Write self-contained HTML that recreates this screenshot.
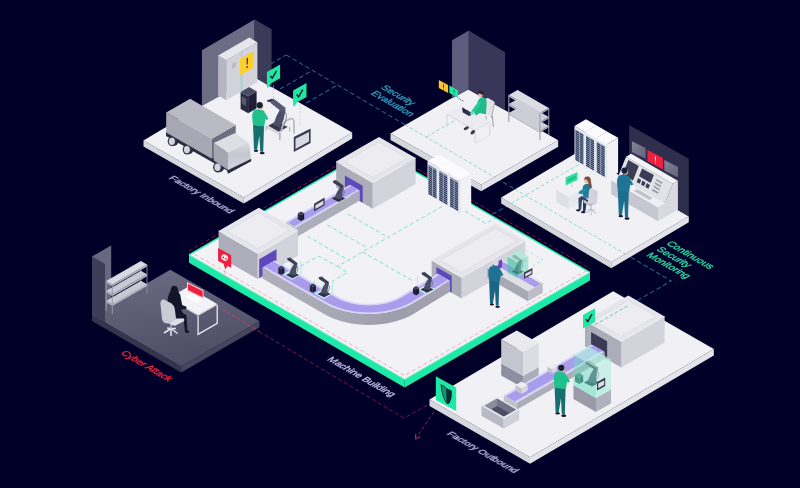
<!DOCTYPE html>
<html lang="en"><head><meta charset="utf-8"><title>Factory Security Overview</title>
<style>
html,body{margin:0;padding:0;background:#010029;}
body{width:800px;height:488px;overflow:hidden;}
svg{display:block;}
text{font-family:"Liberation Sans",sans-serif;}
</style></head><body>
<svg width="800" height="488" viewBox="0 0 800 488">
<rect width="800" height="488" fill="#010029"/>
<!-- p_lines -->
<polyline points="286.2,54.9 671.2,281 607.5,317.8" fill="none" stroke="#2a5f84" stroke-width="1.1" stroke-dasharray="4.6 2.8"/>
<polyline points="232,86.2 286.2,54.9" fill="none" stroke="#2a5f84" stroke-width="1.1" stroke-dasharray="4.6 2.8"/>
<polyline points="280,89.1 312.5,70.3" fill="none" stroke="#2a5f84" stroke-width="1.1" stroke-dasharray="4.6 2.8"/>
<polyline points="306.2,103.1 337.5,85" fill="none" stroke="#2a5f84" stroke-width="1.1" stroke-dasharray="4.6 2.8"/>
<polyline points="486,218.1 511.4,203.4" fill="none" stroke="#2a5f84" stroke-width="1.1" stroke-dasharray="4.6 2.8"/>
<polyline points="189,251 374.2,144.1 590,268.6" fill="none" stroke="#7c1747" stroke-width="1" stroke-dasharray="4 2.6"/>
<polyline points="259,331.4 403.8,418.1 431,403.2" fill="none" stroke="#7c1747" stroke-width="1" stroke-dasharray="4 2.6"/>
<!-- p1 -->
<polygon points="143.5,140.6 243.8,197.5 243.8,203.5 143.5,146.6" fill="#d6d6dd"/>
<polygon points="243.8,197.5 352.2,132.6 352.2,138.6 243.8,203.5" fill="#e3e3e9"/>
<polygon points="143.5,140.6 251.9,75.7 352.2,132.6 243.8,197.5" fill="#f1f1f5"/>
<polygon points="201.9,50.3 254.6,19.5 254.6,77 201.9,106" fill="#6c6c84"/>
<polygon points="254.6,19.5 271.6,29.3 271.6,87.5 254.6,77" fill="#3b3a58"/>
<polygon points="218.1,55.6 226.2,60.3 226.2,100.3 218.1,95.6" fill="#b6b6c2"/>
<polygon points="226.2,60.3 257.4,42.3 257.4,82.3 226.2,100.3" fill="#d3d3db"/>
<polygon points="218.1,55.6 249.3,37.6 257.4,42.3 226.2,60.3" fill="#e6e6ec"/>
<polyline points="241.8,91.3 241.8,51.3" fill="none" stroke="#b9b9c4" stroke-width="0.8"/>
<polygon points="232,64 236,61.7 236,67 232,69.3" fill="#bcbcc8"/>
<polygon points="240,58.8 253.8,51.2 253.8,67.5 240,75.6" fill="#fccf2f"/>
<path d="M246.6 58.5 l1.3 -0.7 l-0.2 6.4 l-0.9 0.5z M246.5 66.6 l1.3 -0.7 v1.6 l-1.3 0.7z" fill="#1a1a2e"/>
<polyline points="240.5,75 240.5,92" fill="none" stroke="#8fdccf" stroke-width="0.7" stroke-dasharray="2 1.5"/>
<polygon points="240.6,91.9 248.1,96.2 248.1,113.2 240.6,108.9" fill="#2a2a42"/>
<polygon points="248.1,96.2 256.6,91.3 256.6,108.3 248.1,113.2" fill="#1e1e34"/>
<polygon points="240.6,91.9 249.1,87 256.6,91.3 248.1,96.2" fill="#4b4b64"/>
<polygon points="241.8,96.2 246.2,98.7 246.2,106.2 241.8,103.7" fill="#56566e"/>
<polygon points="166,131 228,166 228,171 166,136" fill="#2d2d44"/>
<ellipse cx="173.8" cy="140.5" rx="4.8" ry="5.2" fill="#26263c"/>
<ellipse cx="172.2" cy="141.3" rx="4.5" ry="5" fill="#34344a"/>
<ellipse cx="171.9" cy="141.3" rx="3" ry="3.6" fill="#d4d4dc"/>
<ellipse cx="188.8" cy="148.8" rx="4.8" ry="5.2" fill="#26263c"/>
<ellipse cx="187.2" cy="149.6" rx="4.5" ry="5" fill="#34344a"/>
<ellipse cx="186.9" cy="149.6" rx="3" ry="3.6" fill="#d4d4dc"/>
<ellipse cx="219.4" cy="166.5" rx="4.9" ry="5.5" fill="#26263c"/>
<ellipse cx="217.8" cy="167.3" rx="4.7" ry="5.2" fill="#34344a"/>
<ellipse cx="217.5" cy="167.3" rx="3.1" ry="3.7" fill="#d4d4dc"/>
<polygon points="166.2,112.5 211.9,138.8 211.9,158.8 166.2,132.5" fill="#a8a8b4"/>
<polygon points="211.9,138.8 235.7,125.1 235.7,145.1 211.9,158.8" fill="#6f6f80"/>
<polygon points="166.2,112.5 190.1,98.8 235.7,125.1 211.9,138.8" fill="#babac4"/>
<polygon points="213.8,143 228,152.5 228,170 213.8,160.6" fill="#a6a6b2"/>
<defs><linearGradient id="cabf" x1="0" y1="0" x2="0" y2="1"><stop offset="0" stop-color="#d9d9e0"/><stop offset="0.45" stop-color="#c6c6cf"/><stop offset="1" stop-color="#d6d6de"/></linearGradient></defs>
<path d="M228 152.5 L248 142.5 Q250.4 146 250.6 158.75 L228 170z" fill="url(#cabf)"/>
<polygon points="213.8,143 235,133 248,142.5 228,152.5" fill="#dedee5"/>
<polygon points="227,170.6 251.2,158.8 251.2,161.3 228,173.8" fill="#2a2a40"/>
<polyline points="266.1,126.3 266.1,130.6" fill="none" stroke="#b4b4bf" stroke-width="1.3"/>
<polyline points="289.6,127 289.6,131.5" fill="none" stroke="#b4b4bf" stroke-width="1.2"/>
<polygon points="265.5,125.8 276.7,119.6 290,126.7 278.6,133.3" fill="#e6e6ec"/>
<polygon points="265.5,125.8 278.6,133.3 278.6,134.5 265.5,127" fill="#c3c3cd"/>
<polygon points="268.2,125.8 276.7,121.1 287.6,127 278.6,131.7" fill="#3b3b52"/>
<polyline points="279.8,132.5 279.8,140" fill="none" stroke="#b4b4bf" stroke-width="1.7"/>
<path d="M281.2 132 Q282 121.5 290.5 118.6 Q294 118.2 294 122 V133.6" fill="none" stroke="#b9b9c4" stroke-width="1.7"/>
<path d="M271.5 125.4 l5.2 -2.9 l5.2 2.9 l-5.2 3z" fill="#2f2f46"/>
<path d="M273.2 125 L276.5 116 L281.2 107.2 L285.6 109.4 L283.6 119.5 L280.4 127.4z" fill="#4e4e68"/>
<path d="M268.6 100.4 L273.4 98.6 L285.8 108 L282.4 112.2 L271.8 104z" fill="#5a5a74"/>
<path d="M266.6 100.6 l5 -1.9 l1.8 1.2 l-5 2.3z" fill="#34344c"/>
<path d="M284.5 111 Q288.5 116 284 124" fill="none" stroke="#6a6a84" stroke-width="0.8"/>
<polygon points="293.8,136.9 310.6,128.5 310.6,143 293.8,152" fill="#3a3a50"/>
<polygon points="295.5,138.8 309,132 309,141.6 295.5,149" fill="#d9d9e1"/>
<polyline points="273.5,85.5 273.5,100" fill="none" stroke="#8fdccf" stroke-width="0.7" stroke-dasharray="2 1.5"/>
<polyline points="300,104 300,126" fill="none" stroke="#8fdccf" stroke-width="0.7" stroke-dasharray="2 1.5"/>
<path d="M266.9 71.9 L280.1 64.5 L280.1 78.3 L270.9 83.5 L267.7 88.3 L266.9 85.7z" fill="#1ee8a4"/>
<path d="M270.3 75.9 l2 2.2 l4.2 -7.2" fill="none" stroke="#10202e" stroke-width="1.5"/>
<path d="M293.1 90.6 L306.5 83.1 L306.5 97 L297.1 102.3 L293.9 107.1 L293.1 104.5z" fill="#1ee8a4"/>
<path d="M296.6 94.6 l2 2.2 l4.2 -7.2" fill="none" stroke="#10202e" stroke-width="1.5"/>
<path d="M253 124.6 L264 126.1 L263.2 152.1 L260.2 151.6 L259.4 135.6 L257 150.1 L254 149.6z" fill="#16706f"/>
<ellipse cx="256" cy="150.8" rx="2.3" ry="1.1" fill="#16162a"/>
<ellipse cx="262.2" cy="153.1" rx="2.5" ry="1.2" fill="#16162a"/>
<path d="M254 110.1 Q259 108.1 264 110.8 L266 116.6 L264.2 126.6 L253 125.2 L252.2 117.6 Q252 112.6 254 110.1z" fill="#21c08c"/>
<path d="M262.5 112.6 L265.5 113.6 L268.5 119.1 L266.2 120.1z" fill="#21c08c"/>
<ellipse cx="260.8" cy="106.4" rx="2.6" ry="3" fill="#e8b9a0"/>
<ellipse cx="259.7" cy="105.2" rx="3.1" ry="3.1" fill="#162433"/>
<!-- p2 -->
<polygon points="390.5,133.6 481.2,184.8 481.2,191.3 390.5,140.1" fill="#d6d6dd"/>
<polygon points="481.2,184.8 558.2,140.2 558.2,146.7 481.2,191.3" fill="#e3e3e9"/>
<polygon points="390.5,133.6 467.5,89 558.2,140.2 481.2,184.8" fill="#f1f1f5"/>
<polygon points="452,40.2 468.8,30.6 468.8,89.5 452,98.5" fill="#5d5c7c"/>
<polygon points="468.8,30.6 505,52.3 505,110 468.8,89.5" fill="#38375a"/>
<clipPath id="c2"><polygon points="390.5,133.6 467.5,89 558.2,140.2 481.2,184.8"/></clipPath><g clip-path="url(#c2)">
<polyline points="400,121.7 510,186.3" fill="none" stroke="#7fd9cc" stroke-width="0.9" stroke-dasharray="3.5 2.2"/>
<polyline points="426.5,137 463,115.6" fill="none" stroke="#7fd9cc" stroke-width="0.9" stroke-dasharray="3.5 2.2"/>
</g>
<polygon points="438.8,80 448.1,85 448.1,93.1 438.8,88.1" fill="#f6c52f"/>
<path d="M443 84.2 l1 0.5 l-0.2 3.4 l-0.6 -0.3z M443.2 88.6 l0.8 0.4 v1 l-0.8 -0.4z" fill="#1a1a2e"/>
<polygon points="449.4,85.6 458.1,90.6 458.1,98.1 449.4,93.1" fill="#1ee8a4"/>
<path d="M453.6 89.6 l0.9 0.5 l-0.2 3.2 l-0.5 -0.3z M453.8 93.8 l0.7 0.4 v0.9 l-0.7 -0.4z" fill="#0f5a4a"/>
<polyline points="458.5,98.5 464,101.5" fill="none" stroke="#34344c" stroke-width="1" stroke-dasharray="1 1"/>
<path d="M485.5 99.5 Q487 97 489.5 98.8 L494 101.5 Q495 102.5 494.6 104 L492 117.5 L484.5 113z" fill="#e1e1e8"/>
<polyline points="492.4,116 493.4,127" fill="none" stroke="#8e8e9c" stroke-width="0.9"/>
<polyline points="486,116 486.5,124" fill="none" stroke="#8e8e9c" stroke-width="0.9"/>
<polyline points="494.4,103 491.5,118" fill="none" stroke="#a6a6b2" stroke-width="0.9"/>
<polygon points="446.9,113.6 475,129.8 475,130.8 446.9,114.5" fill="#cdcdd6"/>
<polygon points="475,129.8 489.8,121.3 489.8,122.2 475,130.8" fill="#d8d8e0"/>
<polygon points="446.9,113.6 461.6,105.1 489.8,121.3 475,129.8" fill="#ebebf1"/>
<polyline points="446.9,114.5 446.9,127.1" fill="none" stroke="#d2d2db" stroke-width="1"/>
<polyline points="475,130.8 475,143.3" fill="none" stroke="#d2d2db" stroke-width="1"/>
<polyline points="489.8,122.2 489.8,134.8" fill="none" stroke="#d2d2db" stroke-width="1"/>
<polyline points="475,143.3 489.8,134.8" fill="none" stroke="#dadae2" stroke-width="0.9"/>
<ellipse cx="466.3" cy="128.2" rx="2.8" ry="1.5" fill="#3a3a50" transform="rotate(-28 466.3 128.2)"/>
<ellipse cx="472.8" cy="132.3" rx="2.6" ry="1.6" fill="#3a3a50" transform="rotate(-40 472.8 132.3)"/>
<path d="M474 112 L478 101 Q480 96.5 484 97.5 Q487.3 99 486.6 105 L485.8 114.5 L480 113 L476 115.5z" fill="#20bb89"/>
<path d="M478.5 101.5 L481.5 103 L474.5 112.6 L471.5 113.5 L471.4 111z" fill="#26cf99"/>
<ellipse cx="480.6" cy="94.6" rx="2.4" ry="2.8" fill="#e8b9a0"/>
<path d="M477.6 93.6 Q478 90.3 481 90.6 Q484 91 483.6 94.2 L482.5 95.6 Q481.5 92.8 477.6 93.6z" fill="#2a2436"/>
<polygon points="462,107.3 468.8,111.2 469.4,116 462.8,112.2" fill="#23233a"/>
<polygon points="462.8,112.2 469.4,116 473.4,113.8 467,110.2" fill="#34344c"/>
<polygon points="470,113 473.5,111 474.5,113.6 471,115.6" fill="#5fe3bd"/>
<polyline points="517.6,116.9 517.6,89.9" fill="none" stroke="#9c9ca8" stroke-width="1"/>
<polyline points="548.8,134.9 548.8,107.9" fill="none" stroke="#9c9ca8" stroke-width="1"/>
<polygon points="508.8,95 539.9,113 539.9,114.7 508.8,96.7" fill="#b9b9c5"/>
<polygon points="539.9,113 548.8,107.9 548.8,109.6 539.9,114.7" fill="#a2a2ae"/>
<polygon points="508.8,95 517.6,89.9 548.8,107.9 539.9,113" fill="#dcdce4"/>
<polygon points="508.8,104 539.9,122 539.9,123.7 508.8,105.7" fill="#b9b9c5"/>
<polygon points="539.9,122 548.8,116.9 548.8,118.6 539.9,123.7" fill="#a2a2ae"/>
<polygon points="508.8,104 517.6,98.9 548.8,116.9 539.9,122" fill="#cdcdd7"/>
<polygon points="508.8,113 539.9,131 539.9,132.7 508.8,114.7" fill="#b9b9c5"/>
<polygon points="539.9,131 548.8,125.9 548.8,127.6 539.9,132.7" fill="#a2a2ae"/>
<polygon points="508.8,113 517.6,107.9 548.8,125.9 539.9,131" fill="#cdcdd7"/>
<polyline points="508.8,122 508.8,95" fill="none" stroke="#9c9ca8" stroke-width="1.1"/>
<polyline points="539.9,140 539.9,113" fill="none" stroke="#9c9ca8" stroke-width="1.1"/>
<!-- pmain -->
<polygon points="189,254.8 404.7,379.4 404.7,387.4 189,262.8" fill="#1ceaa6"/>
<polygon points="404.7,379.4 590,272.4 590,280.4 404.7,387.4" fill="#1ceaa6"/>
<polygon points="189,254.8 374.2,147.9 590,272.4 404.7,379.4" fill="#f2f2f6"/>
<polyline points="189,254.8 374.2,147.9 590,272.4" fill="none" stroke="#1ceaa6" stroke-width="1.4"/>
<polyline points="189,254.8 404.7,379.4 590,272.4" fill="none" stroke="#7df3cf" stroke-width="1"/>
<clipPath id="cfloor"><polygon points="189,254.8 374.2,147.9 590,272.4 404.7,379.4"/></clipPath>
<g clip-path="url(#cfloor)">
<polyline points="189,251 404.7,375.6 590,268.6" fill="none" stroke="#f3a7b1" stroke-width="0.9" stroke-dasharray="4 2.6"/>
<polyline points="442,206.5 337.5,266.3 318.8,256.3 300,266.3" fill="none" stroke="#74dcc9" stroke-width="0.9" stroke-dasharray="4 2.6"/>
<polyline points="337.5,266.3 347.5,272.5 332.5,281.2" fill="none" stroke="#74dcc9" stroke-width="0.9" stroke-dasharray="4 2.6"/>
<polyline points="347.5,213.8 386.3,236.3" fill="none" stroke="#74dcc9" stroke-width="0.9" stroke-dasharray="4 2.6"/>
<polyline points="327.5,225 367.5,248" fill="none" stroke="#74dcc9" stroke-width="0.9" stroke-dasharray="4 2.6"/>
<polyline points="307.5,236.3 346.3,258.8" fill="none" stroke="#74dcc9" stroke-width="0.9" stroke-dasharray="4 2.6"/>
<polyline points="362.5,252 412,280.5" fill="none" stroke="#74dcc9" stroke-width="0.9" stroke-dasharray="4 2.6"/>
<polyline points="465,211.3 486,223.5 502,214.3" fill="none" stroke="#74dcc9" stroke-width="0.9" stroke-dasharray="4 2.6"/>
<polyline points="474,205 520,231.5" fill="none" stroke="#74dcc9" stroke-width="0.9" stroke-dasharray="4 2.6"/>
</g>
<polygon points="336.2,161.6 372.8,182.7 372.8,208.7 336.2,187.6" fill="#adadba"/>
<polygon points="372.8,182.7 415.6,158 415.6,184 372.8,208.7" fill="#d3d3db"/>
<polygon points="336.2,161.6 379,136.9 415.6,158 372.8,182.7" fill="#e5e5eb"/>
<polygon points="344.9,161.6 379,141.9 406.9,158 372.8,177.7" fill="#ececf1" stroke="#d9d9e1" stroke-width="0.7"/>
<polyline points="336.2,161.6 372.8,182.7 415.6,158" fill="none" stroke="#f0f0f4" stroke-width="0.8"/>
<polyline points="372.8,182.7 372.8,208.7" fill="none" stroke="#c6c6d0" stroke-width="0.6"/>
<polygon points="344.9,175.6 362.7,185.8 362.7,202.8 344.9,192.6" fill="#5f48ba"/>
<polygon points="286.2,221.5 296.2,227.2 296.2,237.2 286.2,231.5" fill="#c2c2cc"/>
<polygon points="296.2,227.2 359.8,190.6 359.8,200.6 296.2,237.2" fill="#adadba"/>
<polygon points="286.2,221.5 349.8,184.8 359.8,190.6 296.2,227.2" fill="#d9d3fa"/>
<polygon points="288,222.5 294.5,226.2 358,189.6 351.5,185.8" fill="#a99cec"/>
<polygon points="297.8,213.2 301,215.1 301,221 297.8,219.2" fill="#24243a"/>
<polygon points="301,215.1 304.2,213.2 304.2,219.2 301,221" fill="#1a1a30"/>
<polygon points="297.8,213.2 301,211.4 304.2,213.2 301,215.1" fill="#3e3e58"/>
<polygon points="314,203.8 324.6,197.6 324.6,205.2 314,211.4" fill="#3a3a50"/>
<polygon points="315.4,205.2 323.4,200.6 323.4,204.4 315.4,209" fill="#d9d9e1"/>
<path d="M331.7 198.5 L338.5 195.1 L345.3 198.5 L338.5 201.9z" fill="#2e2e46"/>
<path d="M334.7 198 L336.9 192.2 L340.8 185.4 L343.8 186.4 L342.3 193.8 L341.9 199.3z" fill="#4c4c66"/>
<path d="M332.7 180.9 L335.9 180 L344 186.1 L341 187.8 L333.5 183z" fill="#3d3d56"/>
<path d="M342.7 188 Q345.9 192.2 342.2 196.4" fill="none" stroke="#5b5b76" stroke-width="0.7"/>
<polygon points="218.6,230.9 257.8,253.5 257.8,279 218.6,256.4" fill="#adadba"/>
<polygon points="257.8,253.5 298,230.3 298,255.8 257.8,279" fill="#d3d3db"/>
<polygon points="218.6,230.9 258.8,207.7 298,230.3 257.8,253.5" fill="#e5e5eb"/>
<polygon points="227.3,230.9 258.8,212.7 289.4,230.3 257.8,248.5" fill="#ececf1" stroke="#d9d9e1" stroke-width="0.7"/>
<polyline points="218.6,230.9 257.8,253.5 298,230.3" fill="none" stroke="#f0f0f4" stroke-width="0.8"/>
<polyline points="257.8,253.5 257.8,279" fill="none" stroke="#c6c6d0" stroke-width="0.6"/>
<polygon points="259.2,259.2 276.5,249.3 276.5,268.3 259.2,278.2" fill="#5f48ba"/>
<polygon points="431.6,260.2 461.6,277.5 461.6,298.5 431.6,281.2" fill="#adadba"/>
<polygon points="461.6,277.5 525.3,240.7 525.3,261.7 461.6,298.5" fill="#d3d3db"/>
<polygon points="431.6,260.2 495.3,223.4 525.3,240.7 461.6,277.5" fill="#e5e5eb"/>
<polygon points="440.3,260.2 495.3,228.4 516.6,240.7 461.6,272.5" fill="#ececf1" stroke="#d9d9e1" stroke-width="0.7"/>
<polyline points="431.6,260.2 461.6,277.5 525.3,240.7" fill="none" stroke="#f0f0f4" stroke-width="0.8"/>
<polyline points="461.6,277.5 461.6,298.5" fill="none" stroke="#c6c6d0" stroke-width="0.6"/>
<polygon points="436.4,266.9 451.7,275.8 451.7,292.8 436.4,283.9" fill="#5f48ba"/>
<defs><linearGradient id="cside" x1="0" y1="0" x2="1" y2="0"><stop offset="0" stop-color="#b0b0bc"/><stop offset="0.4" stop-color="#a8a8b5"/><stop offset="0.7" stop-color="#9d9dab"/><stop offset="1" stop-color="#a2a2b0"/></linearGradient></defs>
<path d="M262.5 267.5 L262.5 267.5 L325 303.6 C349.2 317.5 388.3 317.5 412.5 303.6 L450 280.8 L450 291.8 L412.5 314.6 C388.3 328.5 349.2 328.5 325 314.6 L262.5 278.5z" fill="url(#cside)"/>
<path d="M262.5 267.5 L262.5 267.5 L325 303.6 C349.2 317.5 388.3 317.5 412.5 303.6 L450 280.8 L437.4 273.6 L399.9 296.4 C382.7 306.3 354.8 306.3 337.6 296.4 L275.1 260.2z" fill="#d9d3fa"/>
<path d="M264.4 266.4 L264.4 266.4 L326.9 302.5 C350 315.8 387.5 315.8 410.6 302.5 L448.1 279.7 L439.3 274.7 L401.8 297.5 C383.6 308 354 308 335.7 297.5 L273.2 261.4z" fill="#a99cec"/>
<polygon points="282.7,274.2 291.4,269.2 300.9,274.8 292.2,279.8" fill="#c9f3ee" opacity="0.9"/>
<polyline points="282.7,274.2 282.7,261.2" fill="none" stroke="#6fe0cf" stroke-width="0.5"/>
<polyline points="292.2,279.8 292.2,266.8" fill="none" stroke="#6fe0cf" stroke-width="0.5"/>
<polyline points="300.9,274.8 300.9,261.8" fill="none" stroke="#6fe0cf" stroke-width="0.5"/>
<polyline points="291.4,269.2 291.4,256.2" fill="none" stroke="#6fe0cf" stroke-width="0.5"/>
<polygon points="314.4,293.4 323.1,288.4 332.6,293.9 323.9,298.9" fill="#c9f3ee" opacity="0.9"/>
<polyline points="314.4,293.4 314.4,280.4" fill="none" stroke="#6fe0cf" stroke-width="0.5"/>
<polyline points="323.9,298.9 323.9,285.9" fill="none" stroke="#6fe0cf" stroke-width="0.5"/>
<polyline points="332.6,293.9 332.6,280.9" fill="none" stroke="#6fe0cf" stroke-width="0.5"/>
<polyline points="323.1,288.4 323.1,275.4" fill="none" stroke="#6fe0cf" stroke-width="0.5"/>
<polygon points="417.4,289.2 426.1,284.2 435.6,289.8 426.9,294.8" fill="#c9f3ee" opacity="0.9"/>
<polyline points="417.4,289.2 417.4,276.2" fill="none" stroke="#6fe0cf" stroke-width="0.5"/>
<polyline points="426.9,294.8 426.9,281.8" fill="none" stroke="#6fe0cf" stroke-width="0.5"/>
<polyline points="435.6,289.8 435.6,276.8" fill="none" stroke="#6fe0cf" stroke-width="0.5"/>
<polyline points="426.1,284.2 426.1,271.2" fill="none" stroke="#6fe0cf" stroke-width="0.5"/>
<polygon points="278.3,267.5 281.3,269.2 281.3,275 278.3,273.2" fill="#24243a"/>
<polygon points="281.3,269.2 284.4,267.5 284.4,273.2 281.3,275" fill="#1a1a30"/>
<polygon points="278.3,267.5 281.3,265.7 284.4,267.5 281.3,269.2" fill="#3e3e58"/>
<path d="M286 275 L292.5 271.8 L299 275 L292.5 278.2z" fill="#2e2e46"/>
<path d="M288.9 274.5 L291 269 L294.7 262.5 L297.5 263.5 L296.1 270.5 L295.7 275.8z" fill="#4c4c66"/>
<path d="M287 258.2 L290 257.4 L297.7 263.2 L294.9 264.8 L287.7 260.2z" fill="#3d3d56"/>
<path d="M296.5 265 Q299.5 269 296 273" fill="none" stroke="#5b5b76" stroke-width="0.7"/>
<polygon points="309.8,285.3 312.8,287 312.8,292.8 309.8,291" fill="#24243a"/>
<polygon points="312.8,287 315.9,285.3 315.9,291 312.8,292.8" fill="#1a1a30"/>
<polygon points="309.8,285.3 312.8,283.5 315.9,285.3 312.8,287" fill="#3e3e58"/>
<path d="M317.5 294 L324 290.8 L330.5 294 L324 297.2z" fill="#2e2e46"/>
<path d="M320.4 293.5 L322.5 288 L326.2 281.5 L329 282.5 L327.6 289.5 L327.2 294.8z" fill="#4c4c66"/>
<path d="M318.5 277.2 L321.5 276.4 L329.2 282.2 L326.4 283.8 L319.2 279.2z" fill="#3d3d56"/>
<path d="M328 284 Q331 288 327.5 292" fill="none" stroke="#5b5b76" stroke-width="0.7"/>
<polygon points="413,287.9 416,289.6 416,295.4 413,293.6" fill="#24243a"/>
<polygon points="416,289.6 419.1,287.9 419.1,293.6 416,295.4" fill="#1a1a30"/>
<polygon points="413,287.9 416,286.1 419.1,287.9 416,289.6" fill="#3e3e58"/>
<path d="M420.5 289.5 L427 286.3 L433.5 289.5 L427 292.7z" fill="#2e2e46"/>
<path d="M423.4 289 L425.5 283.5 L429.2 277 L432 278 L430.6 285 L430.2 290.3z" fill="#4c4c66"/>
<path d="M421.5 272.7 L424.5 271.9 L432.2 277.7 L429.4 279.3 L422.2 274.7z" fill="#3d3d56"/>
<path d="M431 279.5 Q434 283.5 430.5 287.5" fill="none" stroke="#5b5b76" stroke-width="0.7"/>
<polygon points="427.5,161 438.3,167.2 438.3,201.2 427.5,195" fill="#ebebf1"/>
<polygon points="438.3,167.2 449.6,160.8 449.6,194.8 438.3,201.2" fill="#f1f1f6"/>
<polygon points="427.5,161 438.8,154.5 449.6,160.8 438.3,167.2" fill="#fbfbfd"/>
<polygon points="428.4,164.3 436.6,169.1 436.6,198.7 428.4,193.9" fill="#8394b2"/>
<polyline points="428.5,193.2 436.4,197.8" fill="none" stroke="#222a44" stroke-width="1"/>
<polyline points="428.5,191.2 436.4,195.8" fill="none" stroke="#222a44" stroke-width="1"/>
<polyline points="428.5,189.2 436.4,193.8" fill="none" stroke="#222a44" stroke-width="1"/>
<polyline points="428.5,187.2 436.4,191.8" fill="none" stroke="#222a44" stroke-width="1"/>
<polyline points="428.5,185.2 436.4,189.8" fill="none" stroke="#222a44" stroke-width="1"/>
<polyline points="428.5,183.2 436.4,187.8" fill="none" stroke="#222a44" stroke-width="1"/>
<polyline points="428.5,181.2 436.4,185.8" fill="none" stroke="#222a44" stroke-width="1"/>
<polyline points="428.5,179.2 436.4,183.8" fill="none" stroke="#222a44" stroke-width="1"/>
<polyline points="428.5,177.2 436.4,181.8" fill="none" stroke="#222a44" stroke-width="1"/>
<polyline points="428.5,175.2 436.4,179.8" fill="none" stroke="#222a44" stroke-width="1"/>
<polyline points="428.5,173.2 436.4,177.8" fill="none" stroke="#222a44" stroke-width="1"/>
<polyline points="428.5,171.2 436.4,175.8" fill="none" stroke="#222a44" stroke-width="1"/>
<polyline points="428.5,169.2 436.4,173.8" fill="none" stroke="#222a44" stroke-width="1"/>
<polyline points="428.5,167.2 436.4,171.8" fill="none" stroke="#222a44" stroke-width="1"/>
<polyline points="432.5,196.3 432.5,166.7" fill="none" stroke="#a9b7d0" stroke-width="0.8"/>
<polyline points="438.3,167.2 438.3,201.2" fill="none" stroke="#d6d6e0" stroke-width="0.6"/>
<polygon points="438.3,167.2 449.2,173.5 449.2,207.5 438.3,201.2" fill="#ebebf1"/>
<polygon points="449.2,173.5 460.4,167 460.4,201 449.2,207.5" fill="#f1f1f6"/>
<polygon points="438.3,167.2 449.6,160.8 460.4,167 449.2,173.5" fill="#fbfbfd"/>
<polygon points="439.2,170.6 447.4,175.3 447.4,204.9 439.2,200.2" fill="#8394b2"/>
<polyline points="439.4,199.4 447.2,204" fill="none" stroke="#222a44" stroke-width="1"/>
<polyline points="439.4,197.4 447.2,202" fill="none" stroke="#222a44" stroke-width="1"/>
<polyline points="439.4,195.4 447.2,200" fill="none" stroke="#222a44" stroke-width="1"/>
<polyline points="439.4,193.4 447.2,198" fill="none" stroke="#222a44" stroke-width="1"/>
<polyline points="439.4,191.4 447.2,196" fill="none" stroke="#222a44" stroke-width="1"/>
<polyline points="439.4,189.4 447.2,194" fill="none" stroke="#222a44" stroke-width="1"/>
<polyline points="439.4,187.4 447.2,192" fill="none" stroke="#222a44" stroke-width="1"/>
<polyline points="439.4,185.4 447.2,190" fill="none" stroke="#222a44" stroke-width="1"/>
<polyline points="439.4,183.4 447.2,188" fill="none" stroke="#222a44" stroke-width="1"/>
<polyline points="439.4,181.4 447.2,186" fill="none" stroke="#222a44" stroke-width="1"/>
<polyline points="439.4,179.4 447.2,184" fill="none" stroke="#222a44" stroke-width="1"/>
<polyline points="439.4,177.4 447.2,182" fill="none" stroke="#222a44" stroke-width="1"/>
<polyline points="439.4,175.4 447.2,180" fill="none" stroke="#222a44" stroke-width="1"/>
<polyline points="439.4,173.4 447.2,178" fill="none" stroke="#222a44" stroke-width="1"/>
<polyline points="443.3,202.5 443.3,172.9" fill="none" stroke="#a9b7d0" stroke-width="0.8"/>
<polyline points="449.2,173.5 449.2,207.5" fill="none" stroke="#d6d6e0" stroke-width="0.6"/>
<polygon points="449.2,173.5 460,179.8 460,213.8 449.2,207.5" fill="#ebebf1"/>
<polygon points="460,179.8 471.2,173.2 471.2,207.2 460,213.8" fill="#f1f1f6"/>
<polygon points="449.2,173.5 460.4,167 471.2,173.2 460,179.8" fill="#fbfbfd"/>
<polygon points="450,176.8 458.2,181.6 458.2,211.2 450,206.4" fill="#8394b2"/>
<polyline points="450.2,205.7 458.1,210.2" fill="none" stroke="#222a44" stroke-width="1"/>
<polyline points="450.2,203.7 458.1,208.2" fill="none" stroke="#222a44" stroke-width="1"/>
<polyline points="450.2,201.7 458.1,206.2" fill="none" stroke="#222a44" stroke-width="1"/>
<polyline points="450.2,199.7 458.1,204.2" fill="none" stroke="#222a44" stroke-width="1"/>
<polyline points="450.2,197.7 458.1,202.2" fill="none" stroke="#222a44" stroke-width="1"/>
<polyline points="450.2,195.7 458.1,200.2" fill="none" stroke="#222a44" stroke-width="1"/>
<polyline points="450.2,193.7 458.1,198.2" fill="none" stroke="#222a44" stroke-width="1"/>
<polyline points="450.2,191.7 458.1,196.2" fill="none" stroke="#222a44" stroke-width="1"/>
<polyline points="450.2,189.7 458.1,194.2" fill="none" stroke="#222a44" stroke-width="1"/>
<polyline points="450.2,187.7 458.1,192.2" fill="none" stroke="#222a44" stroke-width="1"/>
<polyline points="450.2,185.7 458.1,190.2" fill="none" stroke="#222a44" stroke-width="1"/>
<polyline points="450.2,183.7 458.1,188.2" fill="none" stroke="#222a44" stroke-width="1"/>
<polyline points="450.2,181.7 458.1,186.2" fill="none" stroke="#222a44" stroke-width="1"/>
<polyline points="450.2,179.7 458.1,184.2" fill="none" stroke="#222a44" stroke-width="1"/>
<polyline points="454.1,208.8 454.1,179.2" fill="none" stroke="#a9b7d0" stroke-width="0.8"/>
<polyline points="460,179.8 460,213.8" fill="none" stroke="#d6d6e0" stroke-width="0.6"/>
<polygon points="487.3,267.8 528,291.3 528,301.3 487.3,277.8" fill="#a9a9b6"/>
<polygon points="528,291.3 542.7,282.8 542.7,292.8 528,301.3" fill="#bdbdc9"/>
<polygon points="487.3,267.8 502,259.3 542.7,282.8 528,291.3" fill="#dfdfe6"/>
<polygon points="500.3,260.3 494.2,263.8 534.9,287.3 541,283.8" fill="#a99cec"/>
<polygon points="502,259.3 492.5,264.8 492.5,272.8 502,267.3" fill="#5f48ba"/>
<path d="M511.3 271.5 L517.5 268.5 L523.7 271.5 L517.5 274.5z" fill="#2e2e46"/>
<path d="M514.1 271 L516.1 265.8 L519.6 259.6 L522.2 260.6 L520.9 267.2 L520.5 272.3z" fill="#4c4c66"/>
<path d="M512.3 255.5 L515.1 254.8 L522.4 260.3 L519.8 261.8 L512.9 257.4z" fill="#3d3d56"/>
<path d="M521.3 262 Q524.1 265.8 520.8 269.6" fill="none" stroke="#5b5b76" stroke-width="0.7"/>
<polygon points="507.5,256.5 517.5,262.2 517.5,278.2 507.5,272.5" fill="#3fc4a4" opacity="0.6"/>
<polygon points="517.5,262.2 528.3,256 528.3,272 517.5,278.2" fill="#6fdcc0" opacity="0.55"/>
<polygon points="507.5,256.5 518.3,250.2 528.3,256 517.5,262.2" fill="#a9efdc" opacity="0.7"/>
<polygon points="524,272.6 532.4,268 532.4,274.2 524,278.8" fill="#34344a"/>
<polygon points="525.2,273.8 531.4,270.4 531.4,273.4 525.2,276.8" fill="#dcdce4"/>
<polyline points="520,247 543,260 530,267.5" fill="none" stroke="#9fe6da" stroke-width="0.8" stroke-dasharray="3.5 2.4"/>
<path d="M489.1 280.3 L499.3 281.7 L498.6 305.8 L495.8 305.4 L495 290.5 L492.8 304 L490 303.5z" fill="#1c6485"/>
<ellipse cx="491.9" cy="304.6" rx="2.1" ry="1" fill="#16162a"/>
<ellipse cx="497.6" cy="306.8" rx="2.3" ry="1.1" fill="#16162a"/>
<path d="M490 266.8 Q494.7 264.9 499.3 267.4 L501.2 272.8 L499.5 282.1 L489.1 280.8 L488.3 273.8 Q488.2 269.1 490 266.8z" fill="#1f7194"/>
<path d="M497.9 269.1 L500.7 270 L503.5 275.2 L501.4 276.1z" fill="#1f7194"/>
<ellipse cx="496.3" cy="263.3" rx="2.4" ry="2.8" fill="#e8b9a0"/>
<ellipse cx="495.3" cy="262.2" rx="2.9" ry="2.9" fill="#d9d9e2"/>
<polygon points="218.1,248.1 231.2,255.2 231.2,267.8 227.6,265.9 225.2,269.6 223.6,263.8 218.1,260.9" fill="#ee1f3f"/>
<ellipse cx="224.6" cy="257.6" rx="3.6" ry="3" fill="#fbe9ec" transform="rotate(28 224.6 257.6)"/>
<circle cx="223.3" cy="257.4" r="0.85" fill="#ee1f3f"/><circle cx="225.9" cy="258.8" r="0.85" fill="#ee1f3f"/>
<polyline points="224.9,270 224.9,277.5" fill="none" stroke="#f28a9a" stroke-width="0.7" stroke-dasharray="1.5 1.2"/>
<!-- p3 -->
<polygon points="501.2,197.5 611.2,262.3 611.2,268.3 501.2,203.5" fill="#d6d6dd"/>
<polygon points="611.2,262.3 688.8,216.3 688.8,222.3 611.2,268.3" fill="#e3e3e9"/>
<polygon points="501.2,197.5 578.8,151.5 688.8,216.3 611.2,262.3" fill="#f1f1f5"/>
<clipPath id="c3"><polygon points="501.2,197.5 578.8,151.5 688.8,216.3 611.2,262.3"/></clipPath>
<g clip-path="url(#c3)">
<polyline points="505,183.4 640,262.7" fill="none" stroke="#7fd9cc" stroke-width="0.9" stroke-dasharray="3.5 2.2"/>
<polyline points="511.4,203.4 578.5,164.7" fill="none" stroke="#7fd9cc" stroke-width="0.9" stroke-dasharray="3.5 2.2"/>
</g>
<polygon points="629.2,125 688.8,158.8 688.8,216.5 629.2,182" fill="#2f2e4c"/>
<defs><linearGradient id="scr" x1="0" y1="0" x2="1" y2="1"><stop offset="0" stop-color="#858598"/><stop offset="1" stop-color="#626278"/></linearGradient></defs>
<polygon points="631.9,141.2 645.6,148 645.6,158.8 631.9,152" fill="url(#scr)"/>
<polygon points="647.5,150 663,158 663,169.4 647.5,161.2" fill="#f0213f"/>
<path d="M654.8 156.2 l1.1 0.55 l-0.25 4.6 l-0.6 -0.3z M655 162 l0.9 0.45 v1.1 l-0.9 -0.45z" fill="#fff"/>
<polygon points="664.4,160 678,167 678,177.5 664.4,170.6" fill="url(#scr)"/>
<polygon points="574.5,126 585.2,132.2 585.2,167.2 574.5,161" fill="#ebebf1"/>
<polygon points="585.2,132.2 596.7,125.5 596.7,160.5 585.2,167.2" fill="#f1f1f6"/>
<polygon points="574.5,126 586,119.3 596.7,125.5 585.2,132.2" fill="#fbfbfd"/>
<polygon points="575.4,129.3 583.4,134 583.4,164.6 575.4,159.9" fill="#8394b2"/>
<polyline points="575.5,159.2 583.3,163.7" fill="none" stroke="#222a44" stroke-width="1"/>
<polyline points="575.5,157.2 583.3,161.7" fill="none" stroke="#222a44" stroke-width="1"/>
<polyline points="575.5,155.2 583.3,159.7" fill="none" stroke="#222a44" stroke-width="1"/>
<polyline points="575.5,153.2 583.3,157.7" fill="none" stroke="#222a44" stroke-width="1"/>
<polyline points="575.5,151.2 583.3,155.7" fill="none" stroke="#222a44" stroke-width="1"/>
<polyline points="575.5,149.2 583.3,153.7" fill="none" stroke="#222a44" stroke-width="1"/>
<polyline points="575.5,147.2 583.3,151.7" fill="none" stroke="#222a44" stroke-width="1"/>
<polyline points="575.5,145.2 583.3,149.7" fill="none" stroke="#222a44" stroke-width="1"/>
<polyline points="575.5,143.2 583.3,147.7" fill="none" stroke="#222a44" stroke-width="1"/>
<polyline points="575.5,141.2 583.3,145.7" fill="none" stroke="#222a44" stroke-width="1"/>
<polyline points="575.5,139.2 583.3,143.7" fill="none" stroke="#222a44" stroke-width="1"/>
<polyline points="575.5,137.2 583.3,141.7" fill="none" stroke="#222a44" stroke-width="1"/>
<polyline points="575.5,135.2 583.3,139.7" fill="none" stroke="#222a44" stroke-width="1"/>
<polyline points="575.5,133.2 583.3,137.7" fill="none" stroke="#222a44" stroke-width="1"/>
<polyline points="575.5,131.2 583.3,135.7" fill="none" stroke="#222a44" stroke-width="1"/>
<polyline points="579.4,162.2 579.4,131.6" fill="none" stroke="#a9b7d0" stroke-width="0.8"/>
<polyline points="585.2,132.2 585.2,167.2" fill="none" stroke="#d6d6e0" stroke-width="0.6"/>
<polygon points="585.2,132.2 595.9,138.3 595.9,173.3 585.2,167.2" fill="#ebebf1"/>
<polygon points="595.9,138.3 607.4,131.7 607.4,166.7 595.9,173.3" fill="#f1f1f6"/>
<polygon points="585.2,132.2 596.7,125.5 607.4,131.7 595.9,138.3" fill="#fbfbfd"/>
<polygon points="586,135.5 594.1,140.1 594.1,170.7 586,166.1" fill="#8394b2"/>
<polyline points="586.2,165.4 594,169.8" fill="none" stroke="#222a44" stroke-width="1"/>
<polyline points="586.2,163.4 594,167.8" fill="none" stroke="#222a44" stroke-width="1"/>
<polyline points="586.2,161.4 594,165.8" fill="none" stroke="#222a44" stroke-width="1"/>
<polyline points="586.2,159.4 594,163.8" fill="none" stroke="#222a44" stroke-width="1"/>
<polyline points="586.2,157.4 594,161.8" fill="none" stroke="#222a44" stroke-width="1"/>
<polyline points="586.2,155.4 594,159.8" fill="none" stroke="#222a44" stroke-width="1"/>
<polyline points="586.2,153.4 594,157.8" fill="none" stroke="#222a44" stroke-width="1"/>
<polyline points="586.2,151.4 594,155.8" fill="none" stroke="#222a44" stroke-width="1"/>
<polyline points="586.2,149.4 594,153.8" fill="none" stroke="#222a44" stroke-width="1"/>
<polyline points="586.2,147.4 594,151.8" fill="none" stroke="#222a44" stroke-width="1"/>
<polyline points="586.2,145.4 594,149.8" fill="none" stroke="#222a44" stroke-width="1"/>
<polyline points="586.2,143.4 594,147.8" fill="none" stroke="#222a44" stroke-width="1"/>
<polyline points="586.2,141.4 594,145.8" fill="none" stroke="#222a44" stroke-width="1"/>
<polyline points="586.2,139.4 594,143.8" fill="none" stroke="#222a44" stroke-width="1"/>
<polyline points="586.2,137.4 594,141.8" fill="none" stroke="#222a44" stroke-width="1"/>
<polyline points="590.1,168.4 590.1,137.8" fill="none" stroke="#a9b7d0" stroke-width="0.8"/>
<polyline points="595.9,138.3 595.9,173.3" fill="none" stroke="#d6d6e0" stroke-width="0.6"/>
<polygon points="595.9,138.3 606.5,144.5 606.5,179.5 595.9,173.3" fill="#ebebf1"/>
<polygon points="606.5,144.5 618.1,137.8 618.1,172.8 606.5,179.5" fill="#f1f1f6"/>
<polygon points="595.9,138.3 607.4,131.7 618.1,137.8 606.5,144.5" fill="#fbfbfd"/>
<polygon points="596.7,141.6 604.8,146.3 604.8,176.9 596.7,172.2" fill="#8394b2"/>
<polyline points="596.9,171.5 604.6,176" fill="none" stroke="#222a44" stroke-width="1"/>
<polyline points="596.9,169.5 604.6,174" fill="none" stroke="#222a44" stroke-width="1"/>
<polyline points="596.9,167.5 604.6,172" fill="none" stroke="#222a44" stroke-width="1"/>
<polyline points="596.9,165.5 604.6,170" fill="none" stroke="#222a44" stroke-width="1"/>
<polyline points="596.9,163.5 604.6,168" fill="none" stroke="#222a44" stroke-width="1"/>
<polyline points="596.9,161.5 604.6,166" fill="none" stroke="#222a44" stroke-width="1"/>
<polyline points="596.9,159.5 604.6,164" fill="none" stroke="#222a44" stroke-width="1"/>
<polyline points="596.9,157.5 604.6,162" fill="none" stroke="#222a44" stroke-width="1"/>
<polyline points="596.9,155.5 604.6,160" fill="none" stroke="#222a44" stroke-width="1"/>
<polyline points="596.9,153.5 604.6,158" fill="none" stroke="#222a44" stroke-width="1"/>
<polyline points="596.9,151.5 604.6,156" fill="none" stroke="#222a44" stroke-width="1"/>
<polyline points="596.9,149.5 604.6,154" fill="none" stroke="#222a44" stroke-width="1"/>
<polyline points="596.9,147.5 604.6,152" fill="none" stroke="#222a44" stroke-width="1"/>
<polyline points="596.9,145.5 604.6,150" fill="none" stroke="#222a44" stroke-width="1"/>
<polyline points="596.9,143.5 604.6,148" fill="none" stroke="#222a44" stroke-width="1"/>
<polyline points="600.8,174.6 600.8,144" fill="none" stroke="#a9b7d0" stroke-width="0.8"/>
<polyline points="606.5,144.5 606.5,179.5" fill="none" stroke="#d6d6e0" stroke-width="0.6"/>
<polygon points="611.2,180.2 658,207.2 658,221.2 611.2,194.2" fill="#c7c7d1"/>
<polygon points="658,221.2 658,207.2 664.9,203.2 672.7,183.7 677.9,180.7 677.9,209.7" fill="#d9d9e1"/>
<polygon points="611.2,180.2 618.2,176.2 664.9,203.2 658,207.2" fill="#efeff4"/>
<polygon points="618.2,176.2 626,156.7 672.7,183.7 664.9,203.2" fill="#e2e2e9"/>
<polygon points="626,156.7 631.2,153.7 677.9,180.7 672.7,183.7" fill="#f4f4f8"/>
<polygon points="628.4,160 638.8,166 633,180.4 622.6,174.4" fill="#3b3b54"/>
<polygon points="642.1,168.4 653.8,175.1 650.7,182.9 639,176.2" fill="#3b3b54"/>
<polygon points="638.2,178.1 641.2,179.9 639.7,183.8 636.6,182" fill="#3b3b54"/>
<polygon points="642.5,180.6 645.5,182.4 644,186.3 641,184.5" fill="#3b3b54"/>
<polygon points="646.8,183.1 649.9,184.9 648.3,188.8 645.3,187" fill="#3b3b54"/>
<polygon points="652.6,188.8 658.6,192.3 658,193.9 651.9,190.4" fill="#9a9aa8"/>
<polygon points="653.9,185.5 659.9,189 659.3,190.6 653.3,187.1" fill="#9a9aa8"/>
<polygon points="655.2,182.2 661.3,185.7 660.6,187.3 654.6,183.8" fill="#9a9aa8"/>
<polygon points="656.5,178.9 662.6,182.4 662,184 655.9,180.5" fill="#9a9aa8"/>
<polygon points="633.8,191 637.2,189 652.8,198 649.4,200" fill="#c3c3cd"/>
<polygon points="556.2,189.5 568.8,196.8 568.8,209.2 556.2,202" fill="#dfdfe6"/>
<polygon points="568.8,196.8 587.9,185.8 587.9,198.2 568.8,209.2" fill="#e7e7ed"/>
<polygon points="556.2,189.5 575.3,178.5 587.9,185.8 568.8,196.8" fill="#f0f0f5"/>
<polygon points="565.6,177.5 577.5,171.9 577.5,180 565.6,185.6" fill="#2fe0a0"/>
<polygon points="567.4,179.4 575.8,175.4 575.8,178.2 567.4,182.4" fill="#1aa67a" opacity="0.55"/>
<polyline points="571.5,182.5 571.5,187" fill="none" stroke="#cfcfd8" stroke-width="1.2"/>
<polyline points="591,209.5 586,213" fill="none" stroke="#c6c6d0" stroke-width="1.1"/>
<polyline points="591,209.5 596,213.5" fill="none" stroke="#c6c6d0" stroke-width="1.1"/>
<polyline points="591,209.5 591,215.5" fill="none" stroke="#c6c6d0" stroke-width="1.1"/>
<polyline points="591,209.5 588,209.5" fill="none" stroke="#c6c6d0" stroke-width="1.1"/>
<polyline points="591,209.5 595,210" fill="none" stroke="#c6c6d0" stroke-width="1.1"/>
<polyline points="591,203 591,210" fill="none" stroke="#b4b4c0" stroke-width="1.2"/>
<path d="M582 196 L586.5 198.5 L585 201 L582 200 L581.2 210 L578.6 209.4 L578.5 198z" fill="#34466a"/>
<path d="M585 198.5 L589 200.5 L586.5 203 L585.5 211.5 L583 211 L583 201z" fill="#2b3a5c"/>
<ellipse cx="578.2" cy="210.3" rx="2.2" ry="1.1" fill="#16162a"/><ellipse cx="583.2" cy="212.2" rx="2.2" ry="1.1" fill="#16162a"/>
<path d="M583 186 Q586 182.5 589.5 184.5 Q592 187 591.4 193 L590.8 199.5 L583.5 197 L582.4 192z" fill="#1f7a96"/>
<path d="M584 188 L586.4 189.6 L581.5 194.4 L578.6 193.2 L578.8 191.8z" fill="#2489a6"/>
<ellipse cx="586.6" cy="180.6" rx="2.3" ry="2.7" fill="#e8b9a0"/>
<path d="M584 179.5 Q584.5 176 588 176.6 Q591 177.5 590.8 181 L592 187.5 Q589.5 188.5 588.6 185 Q588.6 181.5 586.5 179.3z" fill="#7b4a38"/>
<path d="M589 190.5 Q590 187.5 592.8 188.6 L596.6 190.6 Q598 191.6 597.8 193.4 L596.8 203 Q596.4 205 594.4 204.2 L588 201z" fill="#d2d2dc"/>
<path d="M583.5 199.5 L589 202.6 L595.5 203.8 L590 206.2 L583.5 202.6z" fill="#c0c0cc"/>
<path d="M617.8 190 L628.8 191.5 L628 217.5 L625 217 L624.2 201 L621.8 215.5 L618.8 215z" fill="#1d6e8e"/>
<ellipse cx="620.8" cy="216.2" rx="2.3" ry="1.1" fill="#16162a"/>
<ellipse cx="627" cy="218.5" rx="2.5" ry="1.2" fill="#16162a"/>
<path d="M618.8 175.5 Q623.8 173.5 628.8 176.2 L630.8 182 L629 192 L617.8 190.6 L617 183 Q616.8 178 618.8 175.5z" fill="#1f7596"/>
<path d="M627.3 178 L630.3 179 L633.3 184.5 L631 185.5z" fill="#1f7596"/>
<ellipse cx="625.6" cy="171.8" rx="2.6" ry="3" fill="#e8b9a0"/>
<ellipse cx="624.5" cy="170.6" rx="3.1" ry="3.1" fill="#15233a"/>
<!-- p4 -->
<defs><linearGradient id="g4" x1="0.2" y1="0" x2="0.5" y2="1"><stop offset="0" stop-color="#6b6b83"/><stop offset="1" stop-color="#4c4c64"/></linearGradient></defs>
<polygon points="92,315 181.2,366.5 181.2,372.5 92,321" fill="#34344c"/>
<polygon points="181.2,366.5 259.5,321.3 259.5,327.3 181.2,372.5" fill="#45455d"/>
<polygon points="92,315 170.3,269.8 259.5,321.3 181.2,366.5" fill="url(#g4)"/>
<polygon points="92,315 111.2,303.9 111.2,245.4 92,256.5" fill="#67677f"/>
<polygon points="92,315 105,322.5 105,264 92,256.5" fill="#3d3d58"/>
<polyline points="140.9,290.5 140.9,261" fill="none" stroke="#8c8c9c" stroke-width="0.9"/>
<polyline points="147,294 147,264.5" fill="none" stroke="#8c8c9c" stroke-width="0.9"/>
<polygon points="106.2,281 112.3,284.5 112.3,286.4 106.2,282.9" fill="#a9a9b6"/>
<polygon points="112.3,284.5 147,264.5 147,266.4 112.3,286.4" fill="#b6b6c3"/>
<polygon points="106.2,281 140.9,261 147,264.5 112.3,284.5" fill="#dadae3"/>
<polygon points="106.2,290.8 112.3,294.3 112.3,296.2 106.2,292.7" fill="#a9a9b6"/>
<polygon points="112.3,294.3 147,274.3 147,276.2 112.3,296.2" fill="#b6b6c3"/>
<polygon points="106.2,290.8 140.9,270.8 147,274.3 112.3,294.3" fill="#c9c9d4"/>
<polygon points="106.2,300.7 112.3,304.2 112.3,306.1 106.2,302.6" fill="#a9a9b6"/>
<polygon points="112.3,304.2 147,284.2 147,286.1 112.3,306.1" fill="#b6b6c3"/>
<polygon points="106.2,300.7 140.9,280.7 147,284.2 112.3,304.2" fill="#c9c9d4"/>
<polyline points="106.2,310.5 106.2,281" fill="none" stroke="#9a9aa8" stroke-width="1"/>
<polyline points="112.3,314 112.3,284.5" fill="none" stroke="#9a9aa8" stroke-width="1"/>
<polyline points="217,306.2 259,331.4" fill="none" stroke="#e23a56" stroke-width="0.9" stroke-dasharray="3.5 2.4"/>
<polyline points="171,328.5 164,333" fill="none" stroke="#e6e6ee" stroke-width="1.5"/>
<polyline points="171,328.5 177.5,333.5" fill="none" stroke="#e6e6ee" stroke-width="1.5"/>
<polyline points="171,328.5 171,336" fill="none" stroke="#e6e6ee" stroke-width="1.5"/>
<polyline points="171,328.5 167,328" fill="none" stroke="#e6e6ee" stroke-width="1.5"/>
<polyline points="171,328.5 176,328.5" fill="none" stroke="#e6e6ee" stroke-width="1.5"/>
<polyline points="171,322 171,329" fill="none" stroke="#b4b4c0" stroke-width="1.4"/>
<polygon points="168.7,297.9 198.1,314.9 198.1,315.9 168.7,298.9" fill="#d0d0d9"/>
<polygon points="198.1,314.9 217.2,303.9 217.2,304.9 198.1,315.9" fill="#dcdce4"/>
<polygon points="168.7,297.9 187.8,286.9 217.2,303.9 198.1,314.9" fill="#f3f3f7"/>
<path d="M198.1 315.9 V334.4 L217.2 323.4 V304.9" fill="none" stroke="#ececf2" stroke-width="1.3"/>
<polyline points="168.7,298.9 168.7,310.9" fill="none" stroke="#b9b9c6" stroke-width="1"/>
<polygon points="186,296.8 191.6,293.7 202.5,299.8 197,303.1" fill="#ffffff"/>
<polygon points="187,282 203.5,290.2 203.5,298.6 187,290.8" fill="#f7c9d0"/>
<polygon points="188,283.8 202.6,291 202.6,297.2 188,290" fill="#f0203e"/>
<path d="M170.6 291 Q170.5 285.8 174.5 285.8 Q178.2 286.2 178 291 Q180.5 294 181 299 L182.2 305 L186.5 306.8 L186.2 309 L181 309.5 L183 313 L186.5 315.5 L187.4 330 L189.5 331.5 L189 333 L185 332.5 L183.6 318.5 L176 319.5 L172 314 L168 304 Q166.6 297 170.6 291z" fill="#14142a"/>
<path d="M160.4 303.5 Q160.6 299 164 299.6 L171.5 303.6 Q174.2 305.4 174.8 309 L176 318.5 L169 323.5 Q163 324 162 319z" fill="#cbcbd5"/>
<path d="M169 323.5 L176 318.5 L183.8 318.6 Q185.2 320 183.5 321.5 L175.5 325.6 Q172 326 169 323.5z" fill="#dedee6"/>
<!-- p5 -->
<polygon points="429.5,399.5 530,457.2 530,463.7 429.5,406" fill="#d6d6dd"/>
<polygon points="530,457.2 713.8,349 713.8,355.5 530,463.7" fill="#e3e3e9"/>
<polygon points="429.5,399.5 613.2,291.3 713.8,349 530,457.2" fill="#f1f1f5"/>
<polyline points="607.5,317.5 627,306" fill="none" stroke="#7fd9cc" stroke-width="0.9" stroke-dasharray="3.5 2.2"/>
<polygon points="501.2,363.4 523.1,376 523.1,388 501.2,375.4" fill="#8e8ea0"/>
<polygon points="523.1,376 538.7,367 538.7,379 523.1,388" fill="#adadba"/>
<polygon points="501.2,339.4 523.1,352 523.1,376 501.2,363.4" fill="#c5c5cf"/>
<polygon points="523.1,352 538.7,343 538.7,367 523.1,376" fill="#dcdce3"/>
<polygon points="501.2,339.4 516.8,330.4 538.7,343 523.1,352" fill="#e9e9ee"/>
<polygon points="585,320.5 621.3,341.4 621.3,367.4 585,346.5" fill="#adadba"/>
<polygon points="621.3,341.4 664.6,316.4 664.6,342.4 621.3,367.4" fill="#d3d3db"/>
<polygon points="585,320.5 628.3,295.5 664.6,316.4 621.3,341.4" fill="#e5e5eb"/>
<polygon points="593.7,320.5 628.3,300.5 655.9,316.4 621.3,336.4" fill="#ececf1" stroke="#d9d9e1" stroke-width="0.7"/>
<polyline points="585,320.5 621.3,341.4 664.6,316.4" fill="none" stroke="#f0f0f4" stroke-width="0.8"/>
<polyline points="621.3,341.4 621.3,367.4" fill="none" stroke="#c6c6d0" stroke-width="0.6"/>
<polygon points="591.1,332 607.1,341.2 607.1,359.2 591.1,350" fill="#3b3b55"/>
<polygon points="503.7,395.2 516.7,402.7 516.7,409.7 503.7,402.2" fill="#c2c2cc"/>
<polygon points="516.7,402.7 604.7,351.9 604.7,358.9 516.7,409.7" fill="#adadba"/>
<polygon points="503.7,395.2 591.7,344.4 604.7,351.9 516.7,402.7" fill="#d9d3fa"/>
<polygon points="505.6,396.3 514.8,401.6 602.8,350.8 593.6,345.5" fill="#a99cec"/>
<polygon points="515.5,385 521.6,388.5 521.6,394 515.5,390.5" fill="#c3c3ce"/>
<polygon points="521.6,388.5 527.6,385 527.6,390.5 521.6,394" fill="#d8d8e0"/>
<polygon points="515.5,385 521.6,381.5 527.6,385 521.6,388.5" fill="#ececf1"/>
<polygon points="547.3,366.5 552.1,369.2 552.1,373.8 547.3,371" fill="#c3c3ce"/>
<polygon points="552.1,369.2 556.8,366.5 556.8,371 552.1,373.8" fill="#d8d8e0"/>
<polygon points="547.3,366.5 552.1,363.8 556.8,366.5 552.1,369.2" fill="#ececf1"/>
<polygon points="481.5,405.8 503.7,418.6 503.7,428.6 481.5,415.8" fill="#b9b9c5"/>
<polygon points="503.7,418.6 519.2,409.7 519.2,419.7 503.7,428.6" fill="#d0d0d9"/>
<polygon points="481.5,405.8 497,396.9 519.2,409.7 503.7,418.6" fill="#e3e3ea"/>
<clipPath id="cbin"><polygon points="484.6,405.8 497,398.6 516.1,409.6 503.7,416.8"/></clipPath><g clip-path="url(#cbin)">
<polygon points="484.6,405.8 497,398.6 516.1,409.6 503.7,416.8" fill="#4c4c63"/>
<polygon points="484.6,405.8 497,398.6 497,406.1 484.6,413.3" fill="#8c8c9e"/>
<polygon points="497,398.6 516.1,409.6 516.1,417.1 497,406.1" fill="#747488"/>
</g>
<polygon points="573.5,385 596,398 596,412 573.5,399" fill="#9a9aa8"/>
<polygon points="596,398 611,389.4 611,403.4 596,412" fill="#b2b2be"/>
<polygon points="573.5,385 588.5,376.4 611,389.4 596,398" fill="#d9f3ec"/>
<path d="M583.9 382.5 L592 378.5 L600.1 382.5 L592 386.5z" fill="#2e2e46"/>
<path d="M587.5 381.9 L590.1 375 L594.8 366.9 L598.2 368.1 L596.5 376.9 L596 383.5z" fill="#4c4c66"/>
<path d="M585.1 361.5 L588.9 360.5 L598.5 367.8 L595 369.8 L586 364z" fill="#3d3d56"/>
<path d="M597 370 Q600.8 375 596.4 380" fill="none" stroke="#5b5b76" stroke-width="0.7"/>
<polygon points="575,375 579.3,377.5 579.3,384 575,381.5" fill="#1f5f55"/>
<polygon points="579.3,377.5 583.2,375.2 583.2,381.8 579.3,384" fill="#17504a"/>
<polygon points="575,375 578.9,372.8 583.2,375.2 579.3,377.5" fill="#2d7f6d"/>
<polygon points="573.5,355 596,368 596,398 573.5,385" fill="#6fdcc0" opacity="0.5"/>
<polygon points="596,368 611,359.4 611,389.4 596,398" fill="#a5ecd8" opacity="0.5"/>
<polygon points="573.5,355 588.5,346.4 611,359.4 596,368" fill="#b5f3e2" opacity="0.7"/>
<polygon points="597,382.2 605.2,377.6 605.2,386 597,390.6" fill="#34344a"/>
<polygon points="598.2,383.6 604.2,380.2 604.2,384.8 598.2,388.2" fill="#dcdce4"/>
<polyline points="590,327.6 628,305.6" fill="none" stroke="#63c4c4" stroke-width="0.9" stroke-dasharray="3.5 2.2"/>
<polyline points="589,328 589,352" fill="none" stroke="#8fdccf" stroke-width="0.7" stroke-dasharray="2 1.5"/>
<polygon points="583,315 595,308.3 595,321.9 583,328.6" fill="#1ee8a4"/>
<path d="M585.8 319.2 l2 2.2 l4.2 -7.2" fill="none" stroke="#10202e" stroke-width="1.5"/>
<path d="M554.6 387.2 L565.6 388.7 L564.8 414.7 L561.8 414.2 L561 398.2 L558.6 412.7 L555.6 412.2z" fill="#16706f"/>
<ellipse cx="557.6" cy="413.4" rx="2.3" ry="1.1" fill="#16162a"/>
<ellipse cx="563.8" cy="415.7" rx="2.5" ry="1.2" fill="#16162a"/>
<path d="M555.6 372.7 Q560.6 370.7 565.6 373.4 L567.6 379.2 L565.8 389.2 L554.6 387.8 L553.8 380.2 Q553.6 375.2 555.6 372.7z" fill="#21c08c"/>
<path d="M564.1 375.2 L567.1 376.2 L570.1 381.7 L567.8 382.7z" fill="#21c08c"/>
<ellipse cx="562.4" cy="369" rx="2.6" ry="3" fill="#e8b9a0"/>
<ellipse cx="561.3" cy="367.8" rx="3.1" ry="3.1" fill="#162433"/>
<polygon points="435.8,376.2 456.2,387.5 456.2,411 435.8,400" fill="#1ee8a4"/>
<path d="M440.6 384.2 Q444 384.6 446.4 388 Q449 389.6 451.6 390.6 Q452.6 398 449.6 403 Q448.2 405 446.6 403.4 Q441.6 397.6 440.6 384.2z" fill="#0e2a33"/>
<path d="M446.3 388.4 L446.5 402.6 Q442.4 397 441.6 385.6 Q444.2 386 446.3 388.4z" fill="#1ee8a4" opacity="0.55"/>
<polyline points="433.8,411.9 416.6,437.3" fill="none" stroke="#8a2450" stroke-width="1" stroke-dasharray="3.5 2.4"/>
<path d="M415.4 439.2 l0.3 -5.4 M415.4 439.2 l4.8 -2.4" stroke="#9a2a58" stroke-width="1.1" fill="none"/>
<!-- p_labels -->
<g opacity="0.999">
<text transform="matrix(0.866,0.500,-0.866,0.500,168.5,178.4)" fill="#bebeea" font-size="9.8" text-anchor="start" stroke="#bebeea" stroke-width="0.4">Factory Inbound</text>
<text transform="matrix(0.866,0.500,-0.866,0.500,326.6,359.8)" fill="#bebeea" font-size="9.8" text-anchor="start" stroke="#bebeea" stroke-width="0.4">Machine Building</text>
<text transform="matrix(0.866,0.500,-0.866,0.500,446.4,434.2)" fill="#bebeea" font-size="9.8" text-anchor="start" stroke="#bebeea" stroke-width="0.4">Factory Outbound</text>
<text transform="matrix(0.866,0.500,-0.866,0.500,119.9,353.6)" fill="#ea2540" font-size="9.8" text-anchor="start" stroke="#ea2540" stroke-width="0.4">Cyber Attack</text>
<text transform="matrix(0.866,0.500,-0.866,0.500,380.3,88)" fill="#309cba" font-size="9.8" text-anchor="start" stroke="#309cba" stroke-width="0.4">Security</text>
<text transform="matrix(0.866,0.500,-0.866,0.500,370.3,93.8)" fill="#309cba" font-size="9.8" text-anchor="start" stroke="#309cba" stroke-width="0.4">Evaluation</text>
<text transform="matrix(0.866,0.500,-0.866,0.500,665.8,244)" fill="#2fd8a2" font-size="10" text-anchor="start" stroke="#2fd8a2" stroke-width="0.4">Continuous</text>
<text transform="matrix(0.866,0.500,-0.866,0.500,655.8,249.8)" fill="#2fd8a2" font-size="10" text-anchor="start" stroke="#2fd8a2" stroke-width="0.4">Security</text>
<text transform="matrix(0.866,0.500,-0.866,0.500,645.8,255.5)" fill="#2fd8a2" font-size="10" text-anchor="start" stroke="#2fd8a2" stroke-width="0.4">Monitoring</text>
</g>
</svg>
</body></html>
